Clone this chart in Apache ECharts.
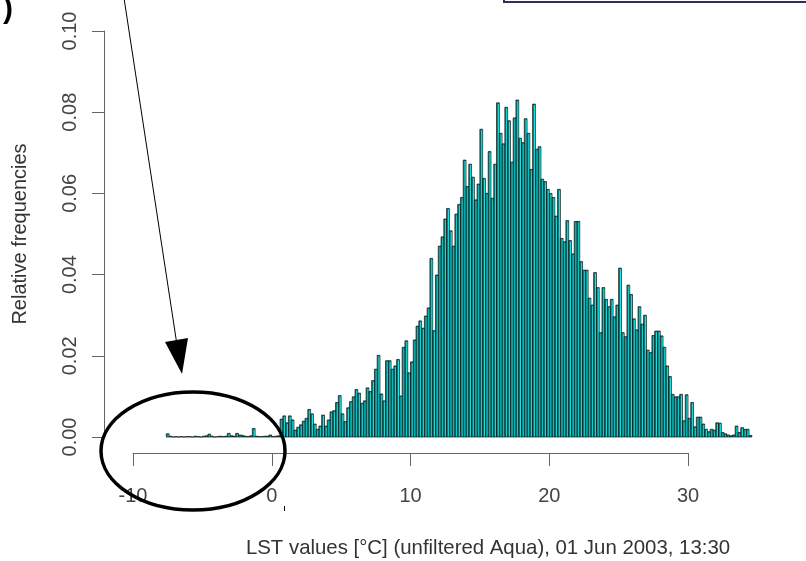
<!DOCTYPE html>
<html><head><meta charset="utf-8">
<script src="https://cdn.jsdelivr.net/npm/echarts@6/dist/echarts.min.js"></script>
<style>html,body{margin:0;padding:0;background:#fff}#c{width:806px;height:561px}</style>
</head><body><div id="c"></div><script>
// Histogram bins: left edge of first bin and bin width (deg C)
const binStart = -7.6;
const binWidth = 0.2;

// Relative frequencies, bin by bin
const freqLeftTail = [
  0.0008,0.0002,0,0.0001,0,0.0001,0,0.0001,0.0001,0,
  0.0002,0.0001,0,0.0002,0.0003,0.0007,0.0002,0,0.0001,0.0002,
  0.0001,0.0002,0.0009,0.0003,0.0002,0.0009,0.0005,0.0004,0.0002,0.0001,
  0.0003,0.0021,0.0002,0.0001,0.0001,0.0002,0.0002,0.0005,0.0001,0.0002,
  0.0003
];
const freqRise = [
  0.0044,0.0052,0.0035,0.0052,0.0042,0.0017,0.0024,0.0030,0.0039,0.0046,
  0.0068,0.0057,0.0032,0.0019,0.0027,0.0054,0.0027,0.0042,0.0062,0.0065,
  0.0085,0.0102,0.0057,0.0038,0.0072,0.0087,0.0099,0.0117,0.0108,0.0083,
  0.0089,0.0121,0.0112,
  0.0139,0.0167,0.0201,0.0106,0.0089,0.0188,0.0188,0.0167,0.0175,0.0191,
  0.0101,0.0221,0.0237,0.0158,0.0185,0.0239,0.0273,0.0286,0.0268,0.0298,
  0.0318,0.0440,0.0262,0.0399,0.0470,0.0493,0.0537,0.0563,0.0508,0.0470,
  0.0549,0.0573,0.0590,0.0682,0.0617,0.0672,0.0640
];
const freqPeak = [
  0.0584,0.0623,0.0758,0.0637,0.0600,0.0703,0.0588,0.0672,0.0823,0.0748,
  0.0722,0.0812,0.0779,0.0677,0.0786,0.0830,0.0736,0.0725,0.0784,0.0748,
  0.0659,0.0820,0.0709,0.0715
];
const freqFall = [
  0.0635,0.0629,0.0610,0.0600,0.0590,0.0544,0.0610,0.0489,0.0481,0.0533,
  0.0484,0.0451,0.0531,0.0531,0.0432,0.0411,0.0411,0.0342,0.0325,0.0405,
  0.0368,0.0257,0.0368,0.0339,0.0321,0.0339,0.0296,0.0325,0.0416,0.0257,
  0.0247,0.0374,0.0351,0.0291,0.0264,0.0321,0.0278,0.0300,0.0214,0.0208,
  0.0250,0.0261,0.0261,0.0249,0.0221,0.0175,0.0149,0.0105,0.0099,0.0099,
  0.0105,0.0040,0.0104,0.0046,0.0085,0.0025,0.0049,0.0049,0.0032,0.0019,
  0.0013,0.0019,0.0017,0.0035,0.0034,0.0011,0.0008,0.0005,0.0003,0.0005,
  0.0027,0.0011,0.0023,0.0019,0.0019,0.0004
];

const xTickValues = [-10, 0, 10, 20, 30];
const yTickValues = [0.00, 0.02, 0.04, 0.06, 0.08, 0.10];
const xTitle = 'LST values [°C] (unfiltered Aqua), 01 Jun 2003, 13:30';
const yTitle = 'Relative frequencies';

const relFreq = freqLeftTail.concat(freqRise, freqPeak, freqFall);
const histData = relFreq.map((v, i) => {
  const a = Math.round((binStart + i * binWidth) * 10) / 10;
  const b = Math.round((binStart + (i + 1) * binWidth) * 10) / 10;
  return [a, b, v];
});

const FONT = '"Liberation Sans", Arial, sans-serif';
const pxPerUnit = 555 / (xTickValues[xTickValues.length-1] - xTickValues[0]);

const chart = echarts.init(document.getElementById('c'), null, {renderer: 'canvas'});
chart.setOption({
  animation: false,
  backgroundColor: '#fff',
  grid: [
    {left: 133, top: 31, width: 45 * pxPerUnit, height: 406},
    {left: 133, top: 31, width: 555, height: 422}
  ],
  xAxis: [
    {gridIndex: 0, type: 'value', min: -10, max: 35, show: false},
    {gridIndex: 1, type: 'value', min: xTickValues[0], max: xTickValues[xTickValues.length-1], interval: 10,
     axisLine: {show: true, onZero: false, lineStyle: {color: '#666', width: 1}},
     axisTick: {show: true, length: 13, lineStyle: {color: '#666', width: 1}},
     axisLabel: {margin: 33, color: '#444', fontSize: 20, fontFamily: FONT,
                 formatter: v => xTickValues.includes(v) ? String(v) : ''},
     splitLine: {show: false}}
  ],
  yAxis: [
    {gridIndex: 0, type: 'value', min: yTickValues[0], max: yTickValues[yTickValues.length-1], interval: 0.02, offset: 29,
     axisLine: {show: true, onZero: false, lineStyle: {color: '#666', width: 1}},
     axisTick: {show: true, length: 12, lineStyle: {color: '#666', width: 1}},
     axisLabel: {rotate: 90, margin: 24, color: '#444', fontSize: 20, fontFamily: FONT,
                 formatter: v => v.toFixed(2), showMinLabel: true, showMaxLabel: true},
     splitLine: {show: false}},
    {gridIndex: 1, type: 'value', min: 0, max: 1, show: false}
  ],
  series: [{
    type: 'custom',
    xAxisIndex: 0, yAxisIndex: 0,
    silent: true,
    data: histData,
    encode: {x: [0, 1], y: 2},
    renderItem: function (params, api) {
      const x0 = api.value(0), x1 = api.value(1), v = api.value(2);
      const pBL = api.coord([x0, 0]);
      const pTR = api.coord([x1, v]);
      const w = pTR[0] - pBL[0], h = pBL[1] - pTR[1];
      const children = [{
        type: 'rect',
        shape: {x: pBL[0], y: pTR[1], width: w, height: h},
        style: {fill: '#008080', stroke: '#111', lineWidth: 0.7}
      }];
      if (h > 2) {
        children.push({
          type: 'line',
          shape: {x1: pTR[0] - 0.9, y1: pTR[1] + 1, x2: pTR[0] - 0.9, y2: pBL[1] - 0.5},
          style: {stroke: '#22e6e6', lineWidth: 1}
        });
      }
      return {type: 'group', children: children};
    }
  }],
  graphic: [
    {type: 'text', x: 3, y: -5, z: 10,
     style: {text: ')', font: 'bold 30px ' + FONT, fill: '#000'}},
    {type: 'line', z: 10, shape: {x1: 124, y1: -2, x2: 177, y2: 345},
     style: {stroke: '#000', lineWidth: 1}},
    {type: 'polygon', z: 10, shape: {points: [[165, 342], [188, 338], [182, 374]]},
     style: {fill: '#000'}},
    {type: 'ellipse', z: 10, shape: {cx: 193, cy: 451, rx: 92, ry: 59},
     style: {fill: 'none', stroke: '#000', lineWidth: 3.5}},
    {type: 'rect', z: 10, shape: {x: 504, y: -10, width: 320, height: 12},
     style: {fill: 'none', stroke: '#2e2e5a', lineWidth: 2}},
    {type: 'line', z: 10, shape: {x1: 284.5, y1: 506, x2: 284.5, y2: 511},
     style: {stroke: '#000', lineWidth: 1}},
    {type: 'text', x: 488, y: 548, z: 10,
     style: {text: xTitle, font: '20.4px ' + FONT, fill: '#333', textAlign: 'center', textVerticalAlign: 'middle'}},
    {type: 'text', x: 20, y: 234, z: 10, rotation: Math.PI / 2,
     style: {text: yTitle, font: '20px ' + FONT, fill: '#333', textAlign: 'center', textVerticalAlign: 'middle'}}
  ]
});
</script></body></html>
